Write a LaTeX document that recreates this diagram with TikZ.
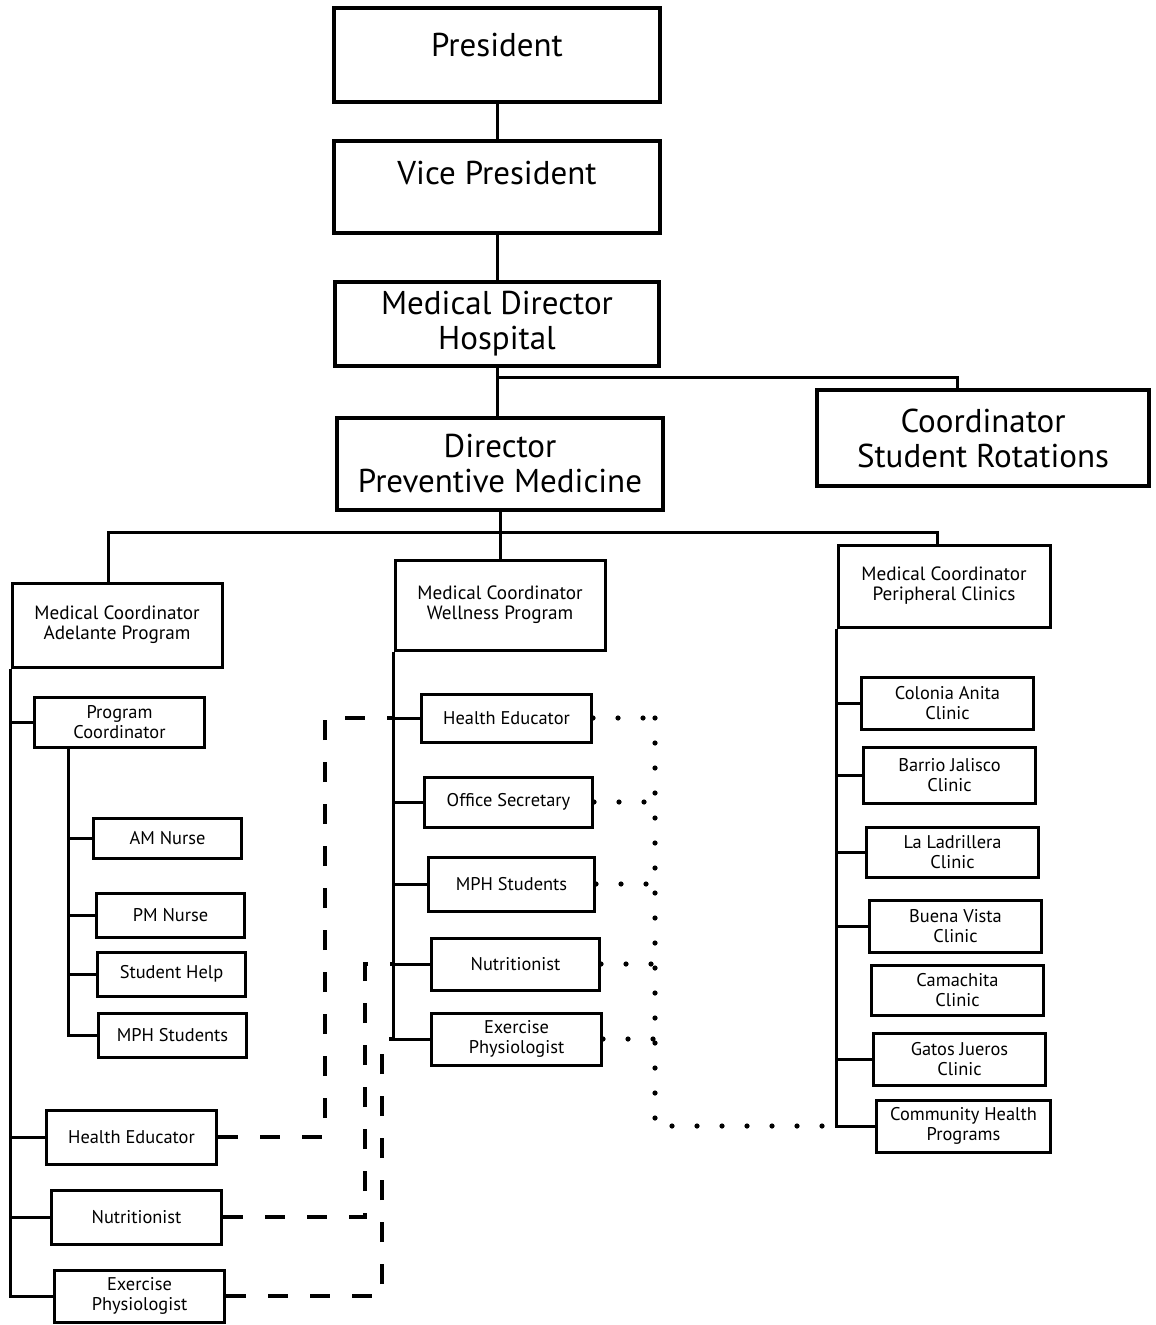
\documentclass[tikz,border=0pt]{standalone}
\usepackage{fontspec}
\setmainfont{PT Sans}
\usetikzlibrary{calc}

\tikzset{
  topbox/.style={draw, line width=1.6pt, align=center, inner sep=2pt,
    font=\fontsize{16.5}{17.5}\selectfont},
  midbox/.style={draw, line width=1.5pt, align=center, inner sep=2pt,
    font=\fontsize{9.6}{10}\selectfont},
  leafbox/.style={draw, line width=1.5pt, align=center, inner sep=1pt, anchor=west,
    font=\fontsize{9.2}{9.8}\selectfont},
  link/.style={line width=1.5pt},
  dashline/.style={line width=1.8pt, dash pattern=on 10pt off 11pt},
  dotline/.style={line width=2.6pt, line cap=round, dash pattern=on 0pt off 12.5pt}
}

\begin{document}
\begin{tikzpicture}[x=0.5pt,y=-0.5pt]
  \useasboundingbox (0,0) rectangle (1155,1325);

  % upper chain
  \node[topbox, minimum width=163pt, minimum height=47pt, text depth=10pt] (pres) at (497,55) {President};
  \node[topbox, minimum width=163pt, minimum height=46pt, text depth=14pt] (vp) at (497,187) {Vice President};
  \node[topbox, minimum width=162pt, minimum height=42pt] (mdh) at (497,324) {Medical Director\\Hospital};
  \node[topbox, minimum width=163pt, minimum height=46pt] (dpm) at (500,464) {Director\\Preventive Medicine};
  \node[topbox, minimum width=166pt, minimum height=48pt] (csr) at (983,438) {Coordinator\\Student Rotations};

  % coordinators
  \node[midbox, minimum width=105pt, minimum height=42pt] (adel) at (117,625) {Medical Coordinator\\Adelante Program};
  \node[midbox, minimum width=105pt, minimum height=45pt] (well) at (500,605) {Medical Coordinator\\Wellness Program};
  \node[midbox, minimum width=106pt, minimum height=41pt] (peri) at (944,586) {Medical Coordinator\\Peripheral Clinics};

  % Adelante program
  \node[leafbox, minimum width=85pt, minimum height=25pt] (pc) at (33,722) {Program\\Coordinator};
  \node[leafbox, minimum width=74pt, minimum height=20pt] (am) at (92,838) {AM Nurse};
  \node[leafbox, minimum width=74pt, minimum height=22pt] (pm) at (95,915) {PM Nurse};
  \node[leafbox, minimum width=74pt, minimum height=22pt] (sh) at (96,974) {Student Help};
  \node[leafbox, minimum width=74pt, minimum height=22pt] (mpha) at (97,1035) {MPH Students};
  \node[leafbox, minimum width=85pt, minimum height=27pt] (hea) at (45,1137) {Health Educator};
  \node[leafbox, minimum width=85pt, minimum height=27pt] (nua) at (50,1217) {Nutritionist};
  \node[leafbox, minimum width=85pt, minimum height=26pt] (exa) at (53,1296) {Exercise\\Physiologist};

  % Wellness program
  \node[leafbox, minimum width=85pt, minimum height=24pt] (hew) at (420,718) {Health Educator};
  \node[leafbox, minimum width=84pt, minimum height=25pt] (os) at (423,802) {Office Secretary};
  \node[leafbox, minimum width=83pt, minimum height=27pt] (mphw) at (427,884) {MPH Students};
  \node[leafbox, minimum width=84pt, minimum height=26pt] (nuw) at (430,964) {Nutritionist};
  \node[leafbox, minimum width=85pt, minimum height=26pt] (exw) at (430,1039) {Exercise\\Physiologist};

  % Peripheral clinics
  \node[leafbox, minimum width=86pt, minimum height=26pt] (cla) at (860,703) {Colonia Anita\\Clinic};
  \node[leafbox, minimum width=86pt, minimum height=28pt] (clb) at (862,775) {Barrio Jalisco\\Clinic};
  \node[leafbox, minimum width=86pt, minimum height=25pt] (clc) at (865,852) {La Ladrillera\\Clinic};
  \node[leafbox, minimum width=86pt, minimum height=26pt] (cld) at (868,926) {Buena Vista\\Clinic};
  \node[leafbox, minimum width=86pt, minimum height=25pt] (cle) at (870,990) {Camachita\\Clinic};
  \node[leafbox, minimum width=86pt, minimum height=26pt] (clf) at (872,1059) {Gatos Jueros\\Clinic};
  \node[leafbox, minimum width=87pt, minimum height=26pt] (chp) at (875,1126) {Community Health\\Programs};

  \coordinate (rot) at (957,378);
  \coordinate (bl) at (108,532);
  \coordinate (br) at (937,532);
  \coordinate (pcs) at ($(pc.south west)+(35,0)$);

  % solid lines
  \draw[link] (pres) -- (vp);
  \draw[link] (vp) -- (mdh);
  \draw[link] (mdh.south) -- (mdh.south |- dpm.north);
  \draw[link] (mdh.south |- rot) -- (rot) -- (rot |- csr.north);
  \draw[link] (dpm.south) -- (well.north);
  \draw[link] (adel.north -| bl) -- (bl) -- (br) -- (br |- peri.north);

  \draw[link] (adel.south west) |- (exa.west);
  \foreach \n in {pc,hea,nua}
    \draw[link] (adel.south west |- \n.west) -- (\n.west);
  \draw[link] (pcs) |- (mpha.west);
  \foreach \n in {am,pm,sh}
    \draw[link] (pcs |- \n.west) -- (\n.west);

  \draw[link] (well.south west) |- (exw.west);
  \foreach \n in {hew,os,mphw,nuw}
    \draw[link] (well.south west |- \n.west) -- (\n.west);

  \draw[link] (peri.south west) |- (chp.west);
  \foreach \n in {cla,clb,clc,cld,clf}
    \draw[link] (peri.south west |- \n.west) -- (\n.west);

  % dashed links
  \coordinate (da) at (325,0);
  \coordinate (db) at (365,0);
  \coordinate (dc) at (382,0);
  \draw[dashline] (hea.east) -| (da |- hew.west) -- (well.south west |- hew.west);
  \draw[dashline] (nua.east) -| (db |- nuw.west) -- (well.south west |- nuw.west);
  \draw[dashline] (exa.east) -| (dc |- exw.west) -- (well.south west |- exw.west);

  % dotted links
  \coordinate (dv) at (655,0);
  \foreach \n in {hew,os,mphw,nuw,exw}
    \draw[dotline] (\n.east) -- (dv |- \n.east);
  \draw[dotline] (dv |- hew.east) -- (dv |- chp.west) -- (peri.south west |- chp.west);
\end{tikzpicture}
\end{document}
